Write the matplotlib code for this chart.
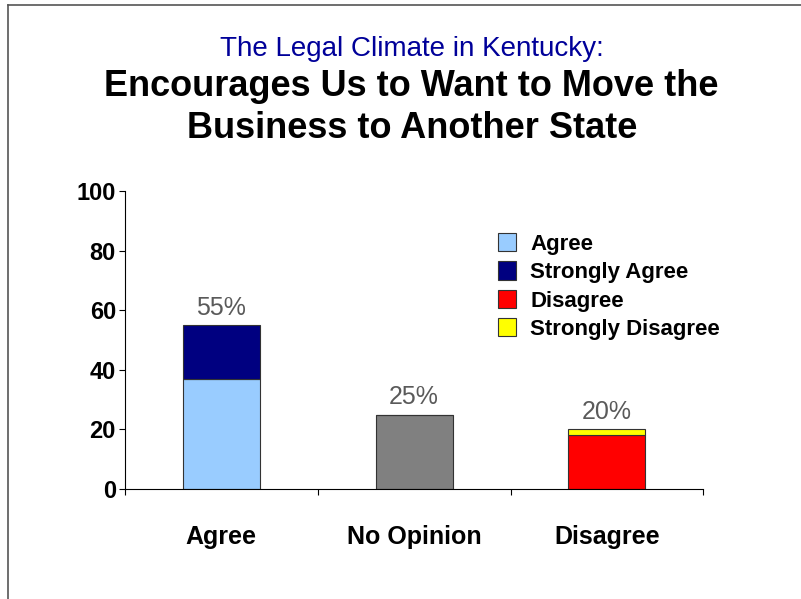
import matplotlib.pyplot as plt
from matplotlib.patches import Patch
from matplotlib.lines import Line2D

categories = ['Agree', 'No Opinion', 'Disagree']
base_values = [37, 25, 18]
top_values = [18, 0, 2]
totals = [55, 25, 20]
base_colors = ['#99ccff', '#808080', '#ff0000']
top_colors = ['#000080', '#808080', '#ffff00']
legend_labels = ['Agree', 'Strongly Agree', 'Disagree', 'Strongly Disagree']
legend_colors = ['#99ccff', '#000080', '#ff0000', '#ffff00']
yticks = [0, 20, 40, 60, 80, 100]

arial = ['Liberation Sans', 'DejaVu Sans']

fig = plt.figure(figsize=(8.01, 5.99), dpi=100)
ax = fig.add_axes([0.156, 0.1836, 0.722, 0.4975])

x = range(len(categories))
ax.bar(x, base_values, width=0.4, color=base_colors, edgecolor='#333333', linewidth=0.8)
ax.bar(x, top_values, bottom=base_values, width=0.4, color=top_colors,
       edgecolor='#333333', linewidth=0.8)

for i, t in enumerate(totals):
    ax.text(i, t + 1.7, f'{t}%', ha='center', va='bottom', fontsize=18,
            color='#5a5a5a', family=arial)

ax.set_xlim(-0.5, 2.5)
ax.set_ylim(0, 100)
ax.set_yticks(yticks)
ax.set_yticklabels([str(v) for v in yticks], fontsize=17, fontweight='bold', family=arial)
ax.set_xticks([-0.5, 0.5, 1.5, 2.5])
ax.set_xticklabels([])
ax.tick_params(axis='x', length=4.5, direction='out', width=0.8)
ax.tick_params(axis='y', length=4.5, direction='out', width=0.8, pad=2)
for i, c in enumerate(categories):
    ax.text(i, -16, c, ha='center', va='center', fontsize=18, fontweight='bold',
            family=arial)
for s in ['top', 'right']:
    ax.spines[s].set_visible(False)
ax.spines['left'].set_linewidth(0.8)
ax.spines['bottom'].set_linewidth(0.8)

handles = [Patch(facecolor=c, edgecolor='#333333', linewidth=0.8) for c in legend_colors]
fig.legend(handles, legend_labels, loc='upper left', bbox_to_anchor=(0.6217, 0.611),
           frameon=False, prop={'family': arial, 'weight': 'bold', 'size': 16},
           handlelength=0.8, handleheight=0.9, labelspacing=0.29, handletextpad=0.65,
           borderpad=0, borderaxespad=0)

fig.text(0.514, 0.9065, 'The Legal Climate in Kentucky:', ha='center', va='baseline',
         fontsize=20, color='#000099', family=arial)
fig.text(0.514, 0.8397, 'Encourages Us to Want to Move the', ha='center', va='baseline',
         fontsize=26, fontweight='bold', family=arial)
fig.text(0.514, 0.7696, 'Business to Another State', ha='center', va='baseline',
         fontsize=26, fontweight='bold', family=arial)

# slide frame
fig.add_artist(Line2D([0.01, 0.01], [0.0, 0.9917], color='#555555', linewidth=1.2,
                      transform=fig.transFigure))
fig.add_artist(Line2D([0.01, 1.0], [0.9917, 0.9917], color='#555555', linewidth=1.2,
                      transform=fig.transFigure))

fig.savefig('out.png', dpi=100)
